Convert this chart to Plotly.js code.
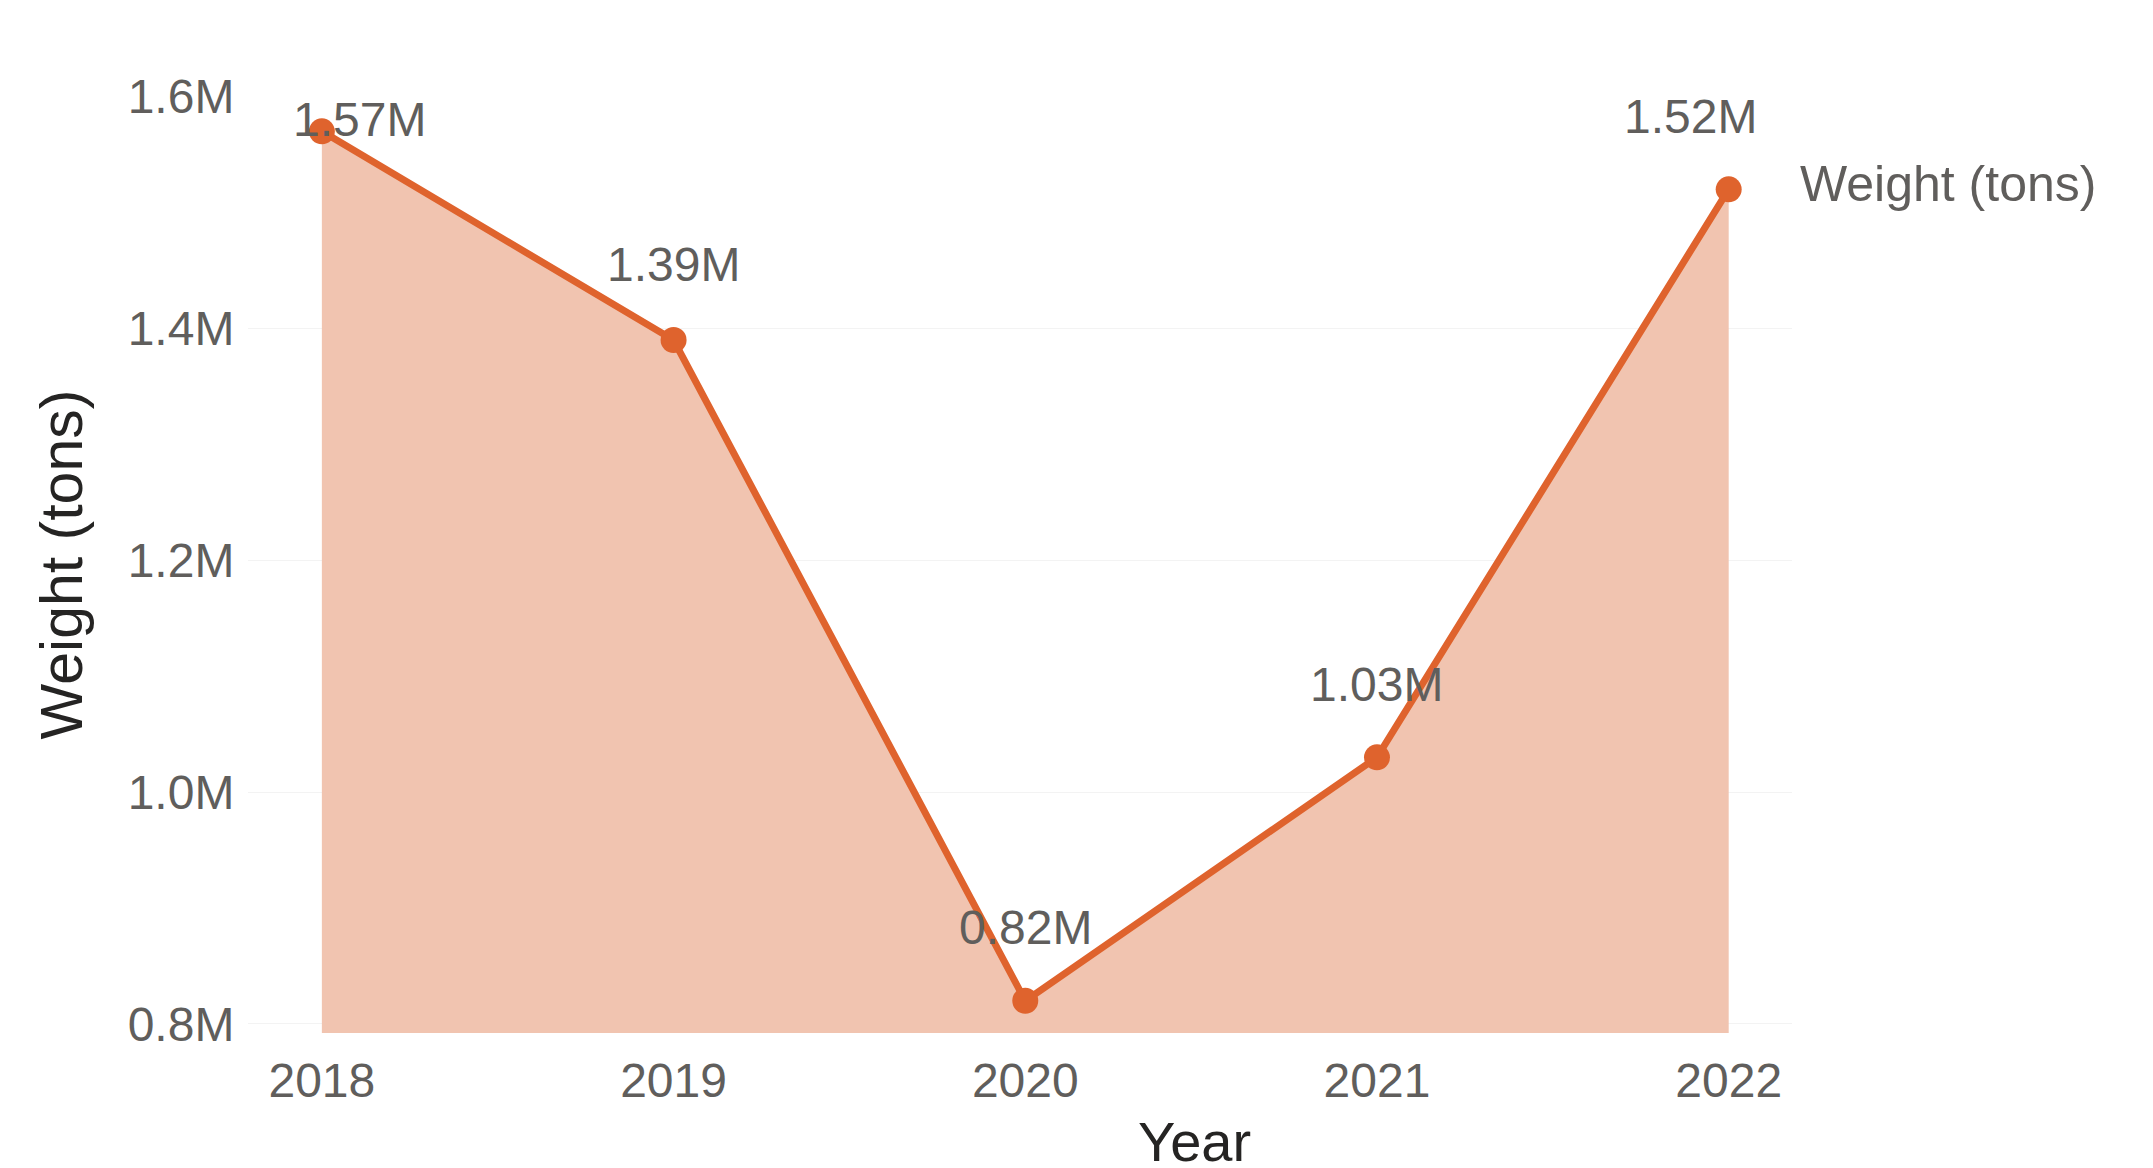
<!DOCTYPE html>
<html>
<head>
<meta charset="utf-8">
<script src="https://cdn.plot.ly/plotly-3.0.1.min.js"></script>
<style>
  html, body { margin: 0; padding: 0; background: #ffffff; }
  #chart { width: 2153px; height: 1168px; }
</style>
</head>
<body>
<div id="chart"></div>
<script>
// ---- data ----
const years = [2018, 2019, 2020, 2021, 2022];
const weightTons = [1570000, 1390000, 820000, 1030000, 1520000];
const seriesName = 'Weight (tons)';
const xTitle = 'Year';
const yTitle = 'Weight (tons)';
const yTickVals = [800000, 1000000, 1200000, 1400000, 1600000];
const yTickText = ['0.8M', '1.0M', '1.2M', '1.4M', '1.6M'];
const xTickText = ['2018', '2019', '2020', '2021', '2022'];

// ---- styles ----
const lineColor = '#DF632D';
const fillColor = 'rgb(241,196,176)';
const labelColor = '#605E5C';
const titleColor = '#252423';
const fontFamily = '"Liberation Sans", Arial, sans-serif';
const labelShiftX = [38, 0, 0, 0, -38];
const labelShiftY = [12, 76, 73, 73, 73];

const fmtM = v => (v / 1e6).toFixed(2) + 'M';

const trace = {
  x: years,
  y: weightTons,
  type: 'scatter',
  mode: 'lines+markers',
  name: seriesName,
  line: { color: lineColor, width: 7 },
  marker: { color: lineColor, size: 26, opacity: 1 },
  fill: 'tozeroy',
  fillcolor: fillColor,
  hoverinfo: 'x+y'
};

const annotations = years.map((yr, i) => ({
  x: yr, y: weightTons[i], xref: 'x', yref: 'y',
  text: fmtM(weightTons[i]),
  showarrow: false,
  xanchor: 'center', yanchor: 'middle',
  xshift: labelShiftX[i], yshift: labelShiftY[i],
  font: { family: fontFamily, size: 48, color: labelColor }
}));
const last = years.length - 1;
annotations.push({
  x: years[last], y: weightTons[last], xref: 'x', yref: 'y',
  text: seriesName, showarrow: false,
  xanchor: 'left', yanchor: 'middle', xshift: 69, yshift: 5,
  font: { family: fontFamily, size: 50, color: labelColor }
});
// x-axis title (placed off-centre, as in the reference)
annotations.push({
  x: 0.613, y: -0.08, xref: 'paper', yref: 'paper',
  text: xTitle, showarrow: false,
  xanchor: 'center', yanchor: 'top',
  font: { family: fontFamily, size: 56, color: titleColor }
});

const layout = {
  width: 2153, height: 1168,
  margin: { l: 248, r: 361, t: 96, b: 135, pad: 0 },
  paper_bgcolor: '#ffffff',
  plot_bgcolor: '#ffffff',
  showlegend: false,
  font: { family: fontFamily, color: labelColor },
  xaxis: {
    type: 'linear',
    range: [2017.79, 2022.18],
    tickvals: years,
    ticktext: xTickText,
    ticks: 'outside', ticklen: 5, tickcolor: 'rgba(0,0,0,0)',
    tickfont: { family: fontFamily, size: 48, color: labelColor },
    showgrid: false, zeroline: false, showline: false
  },
  yaxis: {
    range: [792200, 1600500],
    tickvals: yTickVals,
    ticktext: yTickText,
    ticks: 'outside', ticklen: 3, tickcolor: 'rgba(0,0,0,0)',
    tickfont: { family: fontFamily, size: 48, color: labelColor },
    showgrid: true, gridcolor: '#f3f3f3', gridwidth: 1,
    zeroline: false, showline: false,
    title: { text: yTitle, font: { family: fontFamily, size: 59, color: titleColor }, standoff: 26 }
  },
  annotations: annotations
};

Plotly.newPlot('chart', [trace], layout, { displayModeBar: false, staticPlot: true });
</script>
</body>
</html>
